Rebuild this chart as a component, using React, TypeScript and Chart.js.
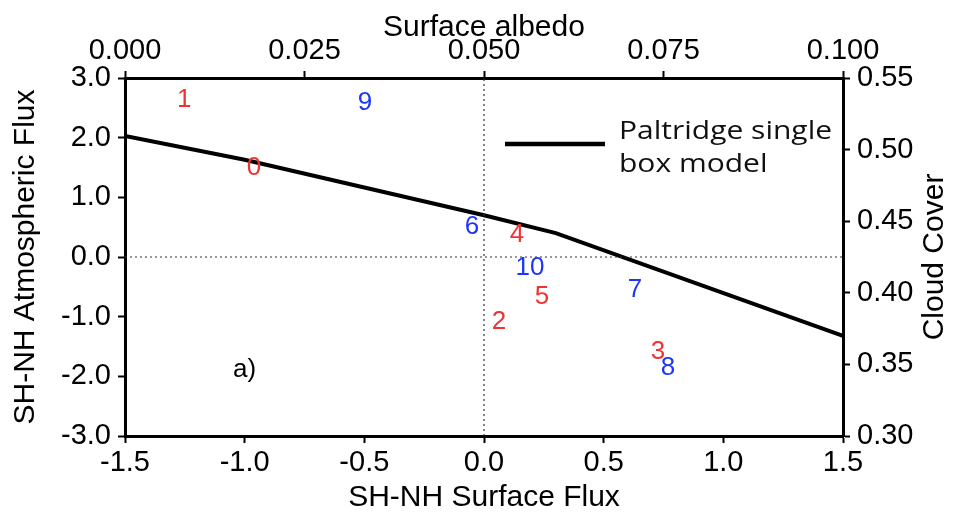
import React, { useEffect, useRef } from "react";
import { Chart, registerables } from "chart.js";

Chart.register(...registerables);

// Paltridge single box model line (SH-NH surface flux vs SH-NH atmospheric flux)
const modelX = [-1.5, -1.0, 0.0, 0.3, 1.5];
const modelY = [2.03, 1.63, 0.7, 0.4, -1.32];

// Red numbered points
const redLabels = ["1", "0", "4", "5", "2", "3"];
const redX = [-1.253, -0.961, 0.138, 0.242, 0.063, 0.727];
const redY = [2.63, 1.49, 0.37, -0.67, -1.09, -1.59];

// Blue numbered points
const blueLabels = ["9", "6", "10", "7", "8"];
const blueX = [-0.497, -0.05, 0.192, 0.631, 0.769];
const blueY = [2.58, 0.5, -0.18, -0.55, -1.86];

// Panel label
const panelLabels = ["a)"];
const panelX = [-1.0];
const panelY = [-1.89];

// Tick values
const xTicks = [-1.5, -1.0, -0.5, 0.0, 0.5, 1.0, 1.5];
const yTicks = [-3, -2, -1, 0, 1, 2, 3];
const albedoTicks = [0.0, 0.025, 0.05, 0.075, 0.1];
const cloudTicks = [0.3, 0.35, 0.4, 0.45, 0.5, 0.55];

const RED = "#f03232";
const BLUE = "#1e35fa";
const FONT = "'Liberation Sans', Arial, Helvetica, sans-serif";

const labelPlugin = {
  id: "textLabels",
  afterDatasetsDraw(chart: any) {
    const ctx = chart.ctx;
    chart.data.datasets.forEach((ds: any, i: number) => {
      if (!ds.textLabels) return;
      const meta = chart.getDatasetMeta(i);
      ctx.save();
      ctx.font = `26px ${FONT}`;
      ctx.fillStyle = ds.textColor;
      ctx.textAlign = "center";
      ctx.textBaseline = "middle";
      meta.data.forEach((el: any, j: number) => {
        ctx.fillText(ds.textLabels[j], el.x, el.y);
      });
      ctx.restore();
    });
  },
};

const legendPlugin = {
  id: "customLegend",
  afterDraw(chart: any) {
    const ctx = chart.ctx;
    ctx.save();
    ctx.strokeStyle = "#000";
    ctx.lineWidth = 4.5;
    ctx.beginPath();
    ctx.moveTo(505, 144);
    ctx.lineTo(605, 144);
    ctx.stroke();
    ctx.fillStyle = "#111";
    ctx.font = "25px 'Open Sans', sans-serif";
    ctx.textAlign = "left";
    ctx.textBaseline = "alphabetic";
    ctx.translate(619, 0);
    ctx.scale(1.2, 1);
    ctx.fillText("Paltridge single", 0, 139);
    ctx.fillText("box model", 0, 172);
    ctx.restore();

    // right-hand axis title, reading bottom to top
    const area = chart.chartArea;
    ctx.save();
    ctx.translate(935, (area.top + area.bottom) / 2);
    ctx.rotate(-Math.PI / 2);
    ctx.font = `30px ${FONT}`;
    ctx.fillStyle = "#000";
    ctx.textAlign = "center";
    ctx.textBaseline = "middle";
    ctx.fillText("Cloud Cover", 0, 0);
    ctx.restore();
  },
};

const setTicks = (vals: number[]) => (scale: any) => {
  scale.ticks = vals.map((v) => ({ value: v }));
};

export default function App() {
  const ref = useRef<HTMLCanvasElement>(null);
  useEffect(() => {
    if (!ref.current) return;
    const tickFont = { family: FONT, size: 29 };
    const titleFont = { family: FONT, size: 30, lineHeight: 1 };
    const grid = {
      display: true,
      drawOnChartArea: false,
      drawTicks: true,
      tickLength: 7,
      tickWidth: 2,
      tickColor: "#000",
    };
    const border = { display: true, color: "#000", width: 3 };
    const chart = new Chart(ref.current, {
      type: "scatter",
      data: {
        datasets: [
          {
            type: "line",
            data: [
              { x: 0, y: -3 },
              { x: 0, y: 3 },
            ],
            borderColor: "#333",
            borderWidth: 1.2,
            borderDash: [2, 3],
            pointRadius: 0,
            xAxisID: "x",
            yAxisID: "y",
          },
          {
            type: "line",
            data: [
              { x: -1.5, y: 0 },
              { x: 1.5, y: 0 },
            ],
            borderColor: "#333",
            borderWidth: 1.2,
            borderDash: [2, 3],
            pointRadius: 0,
            xAxisID: "x",
            yAxisID: "y",
          },
          {
            type: "line",
            label: "Paltridge single box model",
            data: modelX.map((x, i) => ({ x, y: modelY[i] })),
            borderColor: "#000",
            borderWidth: 4,
            pointRadius: 0,
            xAxisID: "x",
            yAxisID: "y",
          },
          {
            data: redX.map((x, i) => ({ x, y: redY[i] })),
            pointRadius: 0,
            textLabels: redLabels,
            textColor: RED,
            xAxisID: "x",
            yAxisID: "y",
          } as any,
          {
            data: blueX.map((x, i) => ({ x, y: blueY[i] })),
            pointRadius: 0,
            textLabels: blueLabels,
            textColor: BLUE,
            xAxisID: "x",
            yAxisID: "y",
          } as any,
          {
            data: panelX.map((x, i) => ({ x, y: panelY[i] })),
            pointRadius: 0,
            textLabels: panelLabels,
            textColor: "#000",
            xAxisID: "x",
            yAxisID: "y",
          } as any,
        ],
      },
      options: {
        animation: false,
        responsive: true,
        maintainAspectRatio: false,
        layout: { padding: 0 },
        plugins: { legend: { display: false }, tooltip: { enabled: false } },
        scales: {
          x: {
            type: "linear",
            position: "bottom",
            min: -1.5,
            max: 1.5,
            afterBuildTicks: setTicks(xTicks),
            afterFit: (s: any) => {
              s.height = 77;
            },
            ticks: {
              font: tickFont,
              color: "#000",
              padding: 3,
              maxRotation: 0,
              callback: (v: any) => Number(v).toFixed(1),
            },
            grid,
            border,
            title: {
              display: true,
              text: "SH-NH Surface Flux",
              font: titleFont,
              color: "#000",
              padding: { top: 0, bottom: 0 },
            },
          },
          x2: {
            type: "linear",
            position: "top",
            display: true,
            min: 0,
            max: 0.1,
            afterBuildTicks: setTicks(albedoTicks),
            afterFit: (s: any) => {
              s.height = 78;
            },
            ticks: {
              font: tickFont,
              color: "#000",
              padding: 3,
              maxRotation: 0,
              callback: (v: any) => Number(v).toFixed(3),
            },
            grid,
            border,
            title: {
              display: true,
              text: "Surface albedo",
              font: titleFont,
              color: "#000",
              padding: { top: 13, bottom: 0 },
            },
          },
          y: {
            type: "linear",
            position: "left",
            min: -3,
            max: 3,
            afterBuildTicks: setTicks(yTicks),
            afterFit: (s: any) => {
              s.width = 125;
            },
            ticks: {
              font: tickFont,
              color: "#000",
              padding: 7,
              callback: (v: any) => Number(v).toFixed(1),
            },
            grid,
            border,
            title: {
              display: true,
              text: "SH-NH Atmospheric Flux",
              font: titleFont,
              color: "#000",
              padding: { top: 11, bottom: 0 },
            },
          },
          y2: {
            type: "linear",
            position: "right",
            display: true,
            min: 0.3,
            max: 0.55,
            afterBuildTicks: setTicks(cloudTicks),
            afterFit: (s: any) => {
              s.width = 112;
            },
            ticks: {
              font: tickFont,
              color: "#000",
              padding: 7,
              callback: (v: any) => Number(v).toFixed(2),
            },
            grid,
            border,
            title: { display: false },
          },
        },
      } as any,
      plugins: [labelPlugin, legendPlugin],
    });
    return () => chart.destroy();
  }, []);
  return (
    <div
      style={{
        position: "absolute",
        left: 0,
        top: 0,
        width: 955,
        height: 513,
        background: "#fff",
      }}
    >
      <canvas ref={ref} />
    </div>
  );
}
